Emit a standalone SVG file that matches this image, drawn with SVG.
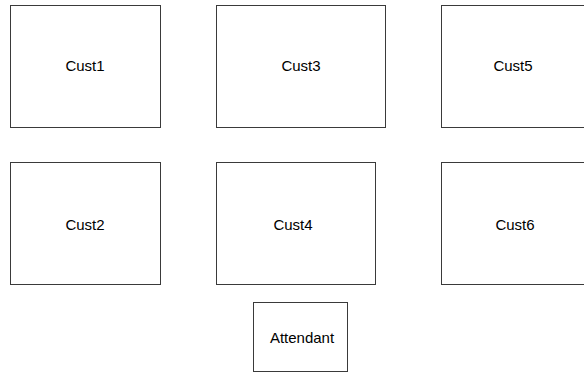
<svg xmlns="http://www.w3.org/2000/svg" width="584" height="373" viewBox="0 0 584 373">
<style>
rect.n{fill:#fff;stroke:#3a3a3a;stroke-width:1}
text{font-family:"Liberation Sans",Arial,sans-serif;font-size:15px;fill:#000;text-anchor:middle}
</style>
<rect width="584" height="373" fill="#fff"/>
<g id="Cust1"><rect class="n" x="10.5" y="5.5" width="150" height="122"/><text x="85" y="71">Cust1</text></g>
<g id="Cust3"><rect class="n" x="216.5" y="5.5" width="169" height="122"/><text x="301" y="71">Cust3</text></g>
<g id="Cust5"><rect class="n" x="441.5" y="5.5" width="160" height="122"/><text x="513" y="71">Cust5</text></g>
<g id="Cust2"><rect class="n" x="10.5" y="162.5" width="150" height="122"/><text x="85" y="230">Cust2</text></g>
<g id="Cust4"><rect class="n" x="216.5" y="162.5" width="159" height="122"/><text x="293" y="230">Cust4</text></g>
<g id="Cust6"><rect class="n" x="441.5" y="162.5" width="160" height="122"/><text x="515" y="230">Cust6</text></g>
<g id="Attendant"><rect class="n" x="253.5" y="302.5" width="94" height="69"/><text x="302" y="343">Attendant</text></g>
<g id="connectors"></g>
</svg>
